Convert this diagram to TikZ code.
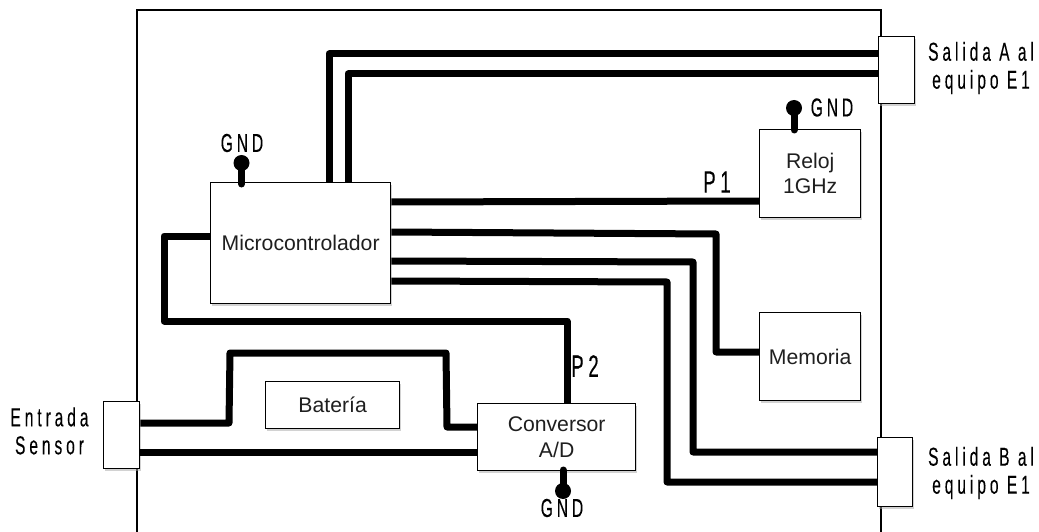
\documentclass[tikz,border=0pt]{standalone}
\usepackage{fontspec}
\setmainfont{Liberation Sans}
\newfontfamily\lblfont[FakeStretch=0.6,FakeBold=0.15,LetterSpace=15]{Liberation Sans}
\usetikzlibrary{shadows}
\tikzset{
  x=1pt,y=-1pt,
  block/.style={draw=black,line width=1.3pt,fill=white,inner sep=0pt,anchor=north west,align=center,font=\fontsize{21.2}{25.5}\selectfont,text=black!88,
    drop shadow={shadow xshift=1.5pt,shadow yshift=-2pt,fill=black!35,opacity=.5}},
  wire/.style={line width=7pt,line join=round,line cap=butt},
  stub/.style={line width=7pt,line cap=round},
  dotn/.style={circle,fill=black,inner sep=0pt,minimum size=16pt},
  lbl/.style={font=\lblfont\fontsize{26}{27}\selectfont,inner sep=0pt,align=center},
  plbl/.style={font=\lblfont\fontsize{31}{32}\selectfont,inner sep=0pt}
}
\begin{document}
\begin{tikzpicture}
\useasboundingbox (0,0) rectangle (1039,532);
\coordinate (fa) at (137,532);
\coordinate (fb) at (137,10);
\coordinate (fc) at (881,10);
\coordinate (fd) at (881,532);
\draw[line width=1.3pt] (fa) -- (fb) -- (fc) -- (fd);

\node[block,minimum width=180pt,minimum height=121pt] (mc) at (210,182) {Microcontrolador};
\node[block,minimum width=101pt,minimum height=88pt] (rel) at (759,129) {Reloj\\1GHz};
\node[block,minimum width=101pt,minimum height=88pt] (mem) at (759,312) {Memoria};
\node[block,minimum width=158pt,minimum height=67pt] (ad) at (477,403) {Conversor\\A/D};
\node[block,minimum width=134pt,minimum height=47pt] (bat) at (265,381) {Batería};
\node[block,minimum width=36pt,minimum height=67pt] (sa) at (878,36) {};
\node[block,minimum width=35pt,minimum height=69pt] (sb) at (877,437) {};
\node[block,minimum width=36pt,minimum height=67pt] (en) at (103,401) {};

\node[dotn] (g1) at (241.5,163) {};
\node[dotn] (g2) at (794,108) {};
\node[dotn] (g3) at (563,491) {};

\draw[wire] (mc.north west -| 329,0) -- (329,54) -- (sa.west |- 0,54);
\draw[wire] (mc.north west -| 348,0) -- (348,74) -- (sa.west |- 0,74);
\draw[wire] (mc.east |- 0,202) -- (rel.west |- 0,201);
\draw[wire] (mc.west |- 0,236) -- (164,236) -- (164,321) -- (567,321) -- (ad.north -| 567,0);
\draw[wire] (mc.east |- 0,232) -- (716,234) -- (716,352) -- (mem.west |- 0,352);
\draw[wire] (mc.east |- 0,261) -- (693,262) -- (693,452) -- (sb.west |- 0,452);
\draw[wire] (mc.east |- 0,281) -- (667,282) -- (667,482) -- (sb.west |- 0,482);
\draw[wire] (en.east |- 0,423) -- (229,423) -- (230,353) -- (446,353) -- (447,427) -- (ad.west |- 0,427);
\draw[wire] (en.east |- 0,452) -- (ad.west |- 0,452);
\draw[stub] (g1.center) -- (241.5,184);
\draw[stub] (g2.center) -- (794,130);
\draw[stub] (g3.center) -- (563,470);

\node[lbl] (tg1) at (242,143) {GND};
\node[lbl] (tg2) at (832,107.5) {GND};
\node[lbl] (tg3) at (562,508) {GND};
\node[plbl] (p1) at (717,182) {P1};
\node[plbl] (p2) at (585,366) {P2};
\node[lbl] (te) at (49.5,431) {Entrada\\[1pt]Sensor};
\node[lbl] (tsa) at (981,68) {Salida A al\\[1pt]equipo E1};
\node[lbl] (tsb) at (981,473) {Salida B al\\[1pt]equipo E1};
\end{tikzpicture}
\end{document}
